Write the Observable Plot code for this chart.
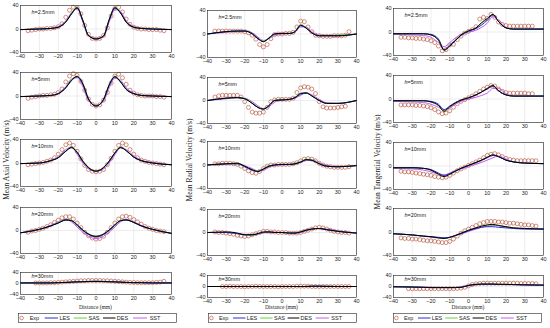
<!DOCTYPE html>
<html><head><meta charset="utf-8">
<script src="https://cdn.jsdelivr.net/npm/d3@7"></script>
<script src="https://cdn.jsdelivr.net/npm/@observablehq/plot@0.6"></script>
<style>
body{margin:0;background:#fff;}
#chart{position:relative;width:550px;height:328px;overflow:hidden;background:#fff;font-family:"Liberation Sans",Arial,sans-serif;}
.panel{position:absolute;}
.ytitle{position:absolute;font-family:"Liberation Serif","Times New Roman",serif;font-size:7.5px;color:#222;white-space:nowrap;transform:translate(-50%,-50%) rotate(-90deg);}
.xtitle{position:absolute;font-family:"Liberation Serif","Times New Roman",serif;font-size:5.5px;color:#222;white-space:nowrap;transform:translate(-50%,-50%);}
</style></head><body><div id="chart"></div><script>
// ---------- data ----------
const hLabels = ["2.5mm","5mm","10mm","20mm","30mm"];
const xTicks = [-40,-30,-20,-10,0,10,20,30,40];
const yTicks = [-40,0,40];
const models = ["LES","SAS","DES","SST"];
const lineX = [-40,-30,-24,-20,-16,-13,-10,-7,-4,0,4,7,10,13,16,20,24,30,40];
const expX = [-36,-34,-32,-30,-28,-26,-24,-22,-20,-18,-16,-14,-12,-10,-8,-6,-4,-2,0,2,4,6,8,10,12,14,16,18,20,22,24,26,28,30,32,34,36];

const axialExp = [
 [-3,-2,-1,0,0,1,1,2,4,9,20,32,37,36,26,6,-9,-16,-17,-16,-11,2,22,35,37,29,17,8,3,1,0,0,-1,-1,-1,-2,-3],
 [-4,-2,-1,0,1,1,2,3,6,12,24,34,38,35,25,10,-5,-14,-17,-15,-7,6,22,34,37,31,20,10,5,2,1,0,0,0,-1,-1,-2],
 [-3,-2,-1,0,1,3,5,9,15,23,31,34,30,20,7,-4,-11,-14,-15,-14,-11,-3,8,20,30,34,31,23,15,9,5,3,1,0,-1,-2,-3],
 [-3,-1,0,2,4,7,10,14,18,22,24,24,20,13,5,-3,-9,-13,-15,-14,-10,-3,5,13,20,24,25,23,19,15,11,7,4,2,0,-1,-2],
 [null,null,2,2,2,2,3,3,4,5,6,7,8,9,10,10,11,11,11,11,10,10,9,8,7,6,5,4,4,3,3,3,3,3,4,5,8]
];
const axialLES = [
 [-1,0,1,3,12,25,36,14,-11,-17,-12,15,36,28,12,3,1,0,-1],
 [-1,0,1,4,14,26,33,20,-5,-17,-6,18,32,24,12,4,1,0,-1],
 [-1,0,4,9,20,27,18,3,-8,-14,-8,3,17,27,21,10,4,0,-3],
 [-4,2,8,13,19,17,9,0,-7,-11,-7,0,9,17,19,14,8,2,-5],
 [2,2,2,3,4,5,6,7,7,8,7,7,6,5,4,3,3,2,2]
];
const axialSAS = [
 [-1,0,1,3,13,27,37,16,-10,-17,-11,17,37,28,11,3,1,0,-1],
 [-1,0,1,4,15,28,34,22,-4,-17,-5,20,34,25,12,4,1,0,-1],
 [-1,0,4,10,21,28,19,4,-7,-14,-7,4,18,28,22,10,4,0,-3],
 [-4,2,8,14,19,18,10,1,-6,-10,-6,1,10,18,19,14,8,2,-5],
 [2,2,2,3,4,5,6,7,8,8,8,7,6,5,4,3,3,2,2]
];
const axialDES = [
 [-1,0,1,3,12,26,36,15,-11,-17,-12,16,36,27,12,3,1,0,-1],
 [-1,0,1,4,14,27,33,21,-5,-17,-6,19,33,24,11,4,1,0,-1],
 [-1,0,4,9,20,26,18,3,-8,-14,-8,3,17,26,21,10,4,0,-3],
 [-4,2,8,13,18,17,10,1,-6,-10,-6,1,10,17,18,14,8,2,-5],
 [2,2,2,3,4,5,6,6,7,7,7,6,6,5,4,3,3,2,2]
];
const axialSST = [
 [-1,0,1,4,14,28,35,12,-12,-16,-13,12,33,30,14,4,1,0,-1],
 [-1,0,1,5,16,29,31,16,-8,-16,-9,14,30,27,14,5,1,0,-1],
 [-1,0,5,11,23,27,15,0,-10,-14,-10,0,14,26,23,12,5,1,-3],
 [-4,2,9,15,19,15,6,-3,-10,-14,-10,-3,6,15,19,15,9,2,-5],
 [2,2,3,3,4,5,6,7,8,9,8,7,6,5,4,3,3,2,2]
];

const radialExp = [
 [5,5,5,5,5,5,5,5,4,2,-2,-9,-18,-22,-18,-8,-1,0,0,1,1,3,12,22,21,12,4,-2,-3,-4,-4,-4,-3,-3,-3,-2,4],
 [6,8,9,9,9,9,9,6,-2,-12,-20,-22,-22,-20,-12,-2,1,2,2,2,2,4,14,22,24,23,20,12,-2,-11,-13,-13,-13,-12,-11,-10,null],
 [2,2,3,3,3,2,1,-2,-6,-10,-13,-14,-11,-6,-2,0,0,1,1,1,1,2,4,7,10,11,10,7,3,0,-2,-3,-4,-4,-4,-4,-3],
 [1,0,0,-1,-2,-3,-5,-6,-7,-6,-4,-2,0,2,2,1,1,0,0,0,-1,-1,-1,0,2,4,6,8,9,8,6,4,2,1,0,0,-1],
 [null,null,0,0,1,0,0,0,-1,0,0,1,0,0,0,0,0,-1,0,0,0,0,1,1,1,1,0,0,0,0,0,0,0,0,0,0,0]
];
const radialLES = [
 [0,4,5,5,1,-7,-13,-7,0,1,1,4,14,10,2,-3,-3,-3,0],
 [0,4,5,3,-5,-12,-15,-9,0,1,2,5,11,13,8,0,-5,-5,0],
 [0,2,2,-3,-9,-11,-7,-2,0,1,1,2,5,9,8,2,-2,-3,-1],
 [0,0,-2,-4,-4,-2,0,1,0,0,-1,-1,1,4,6,7,5,2,-1],
 [0,0,0,0,0,0,0,0,0,0,0,0,0,0,1,1,1,0,0]
];
const radialSAS = [
 [0,4,5,5,1,-7,-12,-6,0,1,1,5,16,11,2,-3,-3,-2,0],
 [0,4,5,4,-4,-11,-14,-8,1,2,2,6,13,14,8,0,-5,-5,0],
 [0,2,2,-3,-8,-10,-6,-1,0,1,1,3,6,10,9,3,-2,-3,-1],
 [0,0,-2,-4,-5,-2,0,1,0,0,-1,-1,1,4,6,7,5,2,-1],
 [0,0,0,0,0,0,0,0,0,0,0,0,0,1,1,1,1,0,0]
];
const radialDES = [
 [0,4,5,5,0,-8,-13,-7,0,1,1,4,15,10,2,-3,-3,-3,0],
 [0,4,5,3,-5,-12,-15,-9,0,1,2,5,12,13,8,0,-5,-5,0],
 [0,2,3,-2,-8,-11,-7,-2,0,1,1,2,5,9,8,2,-2,-3,-1],
 [0,1,-1,-4,-4,-2,1,1,0,0,-1,-1,1,4,6,7,5,2,-1],
 [0,0,0,0,0,0,0,0,0,0,0,0,0,0,1,1,0,0,0]
];
const radialSST = [
 [0,3,5,5,2,-5,-11,-8,-2,0,1,3,12,12,4,-2,-3,-3,0],
 [0,3,5,4,-2,-9,-14,-11,-3,1,2,4,9,13,10,2,-4,-5,0],
 [0,2,2,-1,-6,-10,-9,-4,-1,0,1,2,4,8,9,4,-1,-3,-1],
 [0,0,-2,-3,-4,-3,0,1,1,0,0,-1,0,3,6,7,6,3,-1],
 [0,0,0,0,0,0,0,0,0,0,0,0,0,0,1,1,1,0,0]
];

const tangentialExp = [
 [-9,-9,-10,-10,-11,-11,-12,-13,-15,-18,-24,-32,-30,-22,-21,-13,-7,-2,1,4,9,22,25,23,30,25,17,13,11,10,10,10,10,10,10,10,null],
 [-10,-10,-10,-10,-11,-11,-12,-13,-15,-18,-22,-25,-24,-20,-14,-8,-4,-1,2,5,9,13,17,20,23,22,17,13,11,10,10,10,10,10,9,9,null],
 [-9,-10,-10,-11,-12,-13,-14,-15,-16,-18,-19,-20,-19,-16,-12,-8,-5,-2,1,4,7,10,14,18,20,21,19,16,13,11,10,9,9,9,9,9,9],
 [-10,-11,-11,-12,-12,-13,-14,-15,-15,-16,-17,-18,-18,-16,-12,-7,-2,2,5,8,11,14,16,18,18,18,17,17,16,15,15,14,13,12,12,11,10],
 [null,null,-8,-8,-8,-8,-8,-8,-8,-8,-8,-8,-8,-8,-8,-7,-6,-3,2,7,10,11,12,12,12,12,12,12,12,12,12,12,11,11,11,11,10]
];
const tangentialLES = [
 [-3,-3,-3,-4,-12,-30,-22,-14,-6,1,6,12,20,29,18,7,5,5,5],
 [-3,-3,-3,-4,-9,-18,-12,-6,-2,2,7,12,17,22,14,7,5,5,5],
 [-3,-3,-4,-6,-12,-16,-13,-8,-4,1,6,10,14,18,16,10,7,5,4],
 [-3,-5,-7,-8,-9,-10,-9,-6,-3,2,6,8,9,9,8,7,6,5,5],
 [-1,-2,-3,-4,-4,-4,-4,-4,-3,3,7,8,8,8,8,7,7,6,5]
];
const tangentialSAS = [
 [-3,-3,-3,-5,-14,-31,-23,-14,-5,2,7,15,22,30,18,7,5,5,5],
 [-3,-3,-3,-5,-11,-20,-13,-6,-2,2,7,12,18,23,14,7,5,5,5],
 [-3,-3,-4,-7,-14,-18,-14,-9,-4,1,6,10,15,19,16,10,7,5,4],
 [-3,-5,-7,-8,-10,-11,-9,-6,-2,3,7,10,12,12,11,9,7,6,5],
 [-1,-2,-3,-4,-4,-4,-4,-4,-3,4,8,9,9,9,8,8,7,6,5]
];
const tangentialDES = [
 [-3,-3,-3,-5,-14,-31,-24,-15,-5,2,7,16,23,30,18,7,5,5,5],
 [-3,-3,-3,-5,-11,-21,-13,-7,-2,2,7,12,18,23,14,7,5,5,5],
 [-3,-3,-4,-7,-14,-18,-14,-9,-4,1,6,10,15,19,16,10,7,5,4],
 [-3,-5,-7,-8,-10,-11,-9,-6,-2,3,7,10,12,13,11,9,7,6,5],
 [-1,-2,-3,-4,-4,-4,-4,-4,-3,4,8,9,9,9,8,8,7,6,5]
];
const tangentialSST = [
 [-4,-5,-6,-9,-18,-25,-18,-10,-4,0,3,8,15,26,20,8,5,5,5],
 [-4,-5,-6,-9,-14,-19,-15,-9,-4,0,3,6,10,18,18,9,5,5,5],
 [-4,-5,-7,-10,-14,-15,-12,-8,-5,-1,3,6,10,14,17,12,7,5,4],
 [-3,-5,-7,-9,-10,-10,-9,-6,-3,1,5,8,10,11,11,9,7,6,5],
 [-1,-2,-3,-3,-4,-4,-4,-4,-2,3,7,8,8,8,8,7,7,6,5]
];

const yTitles = ["Mean Axial Velocity (m/s)","Mean Radial Velocity (m/s)","Mean Tangential Velocity (m/s)"];

// ---------- styling / layout ----------
const colors = {Exp:"#b4482e", LES:"#2a2ad2", SAS:"#63d43c", DES:"#000000", SST:"#c65cf2"};
const drawOrder = ["SST","SAS","LES","DES"];
const comps = [
 {Exp:axialExp, LES:axialLES, SAS:axialSAS, DES:axialDES, SST:axialSST},
 {Exp:radialExp, LES:radialLES, SAS:radialSAS, DES:radialDES, SST:radialSST},
 {Exp:tangentialExp, LES:tangentialLES, SAS:tangentialSAS, DES:tangentialDES, SST:tangentialSST}
];
const layout = [
 {x0:20, x1:171, rows:[[5,52],[72,119],[139,186],[207,253],[272,294]], yt:[6,160], leg:[18,176]},
 {x0:207, x1:356, rows:[[10,57],[77,123],[141,188],[209,255],[275,297]], yt:[189,160], leg:[208,356]},
 {x0:393, x1:543, rows:[[8,55],[75,122],[142,189],[208,255],[275,297]], yt:[377,162], leg:[393,541]}
];

const chart = document.getElementById("chart");

comps.forEach((comp, c) => {
  const L = layout[c];
  L.rows.forEach(([y0, y1], r) => {
    const mL = 20, mR = 6, mT = 4, mB = 10;
    const W = L.x1 - L.x0 + mL + mR, H = y1 - y0 + mT + mB;
    const exp = expX.map((x, i) => ({x, y: comp.Exp[r][i]})).filter(d => d.y != null);
    const small = r === 4;
    const labDy = small ? 1.5 : 4.5;
    const marks = [
      Plot.gridX(xTicks, {stroke: "#dadada", strokeOpacity: 1, strokeWidth: 0.5}),
      Plot.gridY(yTicks, {stroke: "#dadada", strokeOpacity: 1, strokeWidth: 0.5}),
      Plot.dot(exp, {x: "x", y: "y", r: 2, stroke: colors.Exp, strokeWidth: 0.6, fill: "none"}),
      ...drawOrder.map(m => Plot.line(lineX.map((x, i) => ({x, y: comp[m][r][i]})),
        {x: "x", y: "y", stroke: colors[m], strokeWidth: 1, curve: "monotone-x"})),
      Plot.frame({stroke: "#262626", strokeWidth: 0.6}),
      Plot.axisX(xTicks, {tickSize: 0, tickPadding: 2, fontSize: 5.5, label: null}),
      Plot.axisY(yTicks, {tickSize: 0, tickPadding: 2, fontSize: 5.5, label: null}),
      Plot.text(["h"], {text: d => d, frameAnchor: "top-left", dx: 11, dy: labDy, fontStyle: "italic", textAnchor: "start", lineAnchor: "top", fontSize: 5.5, fill: "#222"}),
      Plot.text(["=" + hLabels[r]], {text: d => d, frameAnchor: "top-left", dx: 14, dy: labDy, textAnchor: "start", lineAnchor: "top", fontSize: 5.5, fill: "#222"})
    ];
    const svg = Plot.plot({
      width: W, height: H,
      marginLeft: mL, marginRight: mR, marginTop: mT, marginBottom: mB,
      style: {fontFamily: "Liberation Sans, Arial, sans-serif", fontSize: "5.5px", color: "#262626", background: "transparent", overflow: "visible"},
      x: {domain: [-40, 40], label: null},
      y: {domain: [-40, 40], label: null},
      marks
    });
    const div = document.createElement("div");
    div.className = "panel";
    div.style.left = (L.x0 - mL) + "px";
    div.style.top = (y0 - mT) + "px";
    div.appendChild(svg);
    chart.appendChild(div);
  });

  // y title
  const yt = document.createElement("div");
  yt.className = "ytitle";
  yt.style.left = L.yt[0] + "px";
  yt.style.top = L.yt[1] + "px";
  yt.textContent = yTitles[c];
  chart.appendChild(yt);

  // x title
  const xt = document.createElement("div");
  xt.className = "xtitle";
  xt.style.left = ((L.x0 + L.x1) / 2) + "px";
  xt.style.top = "307px";
  xt.textContent = "Distance (mm)";
  chart.appendChild(xt);

  // legend
  const [lx0, lx1] = L.leg;
  const w = lx1 - lx0, f = w / 158;
  const svg = d3.create("svg").attr("width", w + 2).attr("height", 11)
    .style("position", "absolute").style("left", lx0 + "px").style("top", "312.5px")
    .style("font-family", "Liberation Sans, Arial, sans-serif").style("font-size", "5.5px");
  svg.append("rect").attr("x", 0.5).attr("y", 0.5).attr("width", w).attr("height", 9)
    .attr("fill", "#fff").attr("stroke", "#262626").attr("stroke-width", 0.6);
  svg.append("circle").attr("cx", 3.6 * f).attr("cy", 5).attr("r", 1.8)
    .attr("fill", "none").attr("stroke", colors.Exp).attr("stroke-width", 0.6);
  svg.append("text").attr("x", 11.7 * f).attr("y", 7).attr("fill", "#222").text("Exp");
  const items = [["LES", 26.7, 40, 41.5], ["SAS", 55.7, 69, 70.5], ["DES", 85, 97.5, 98.8], ["SST", 115, 129, 131.7]];
  items.forEach(([m, a, b, t]) => {
    svg.append("line").attr("x1", a * f).attr("x2", b * f).attr("y1", 5).attr("y2", 5)
      .attr("stroke", colors[m]).attr("stroke-width", 1);
    svg.append("text").attr("x", t * f).attr("y", 7).attr("fill", "#222").text(m);
  });
  chart.appendChild(svg.node());
});
</script></body></html>
